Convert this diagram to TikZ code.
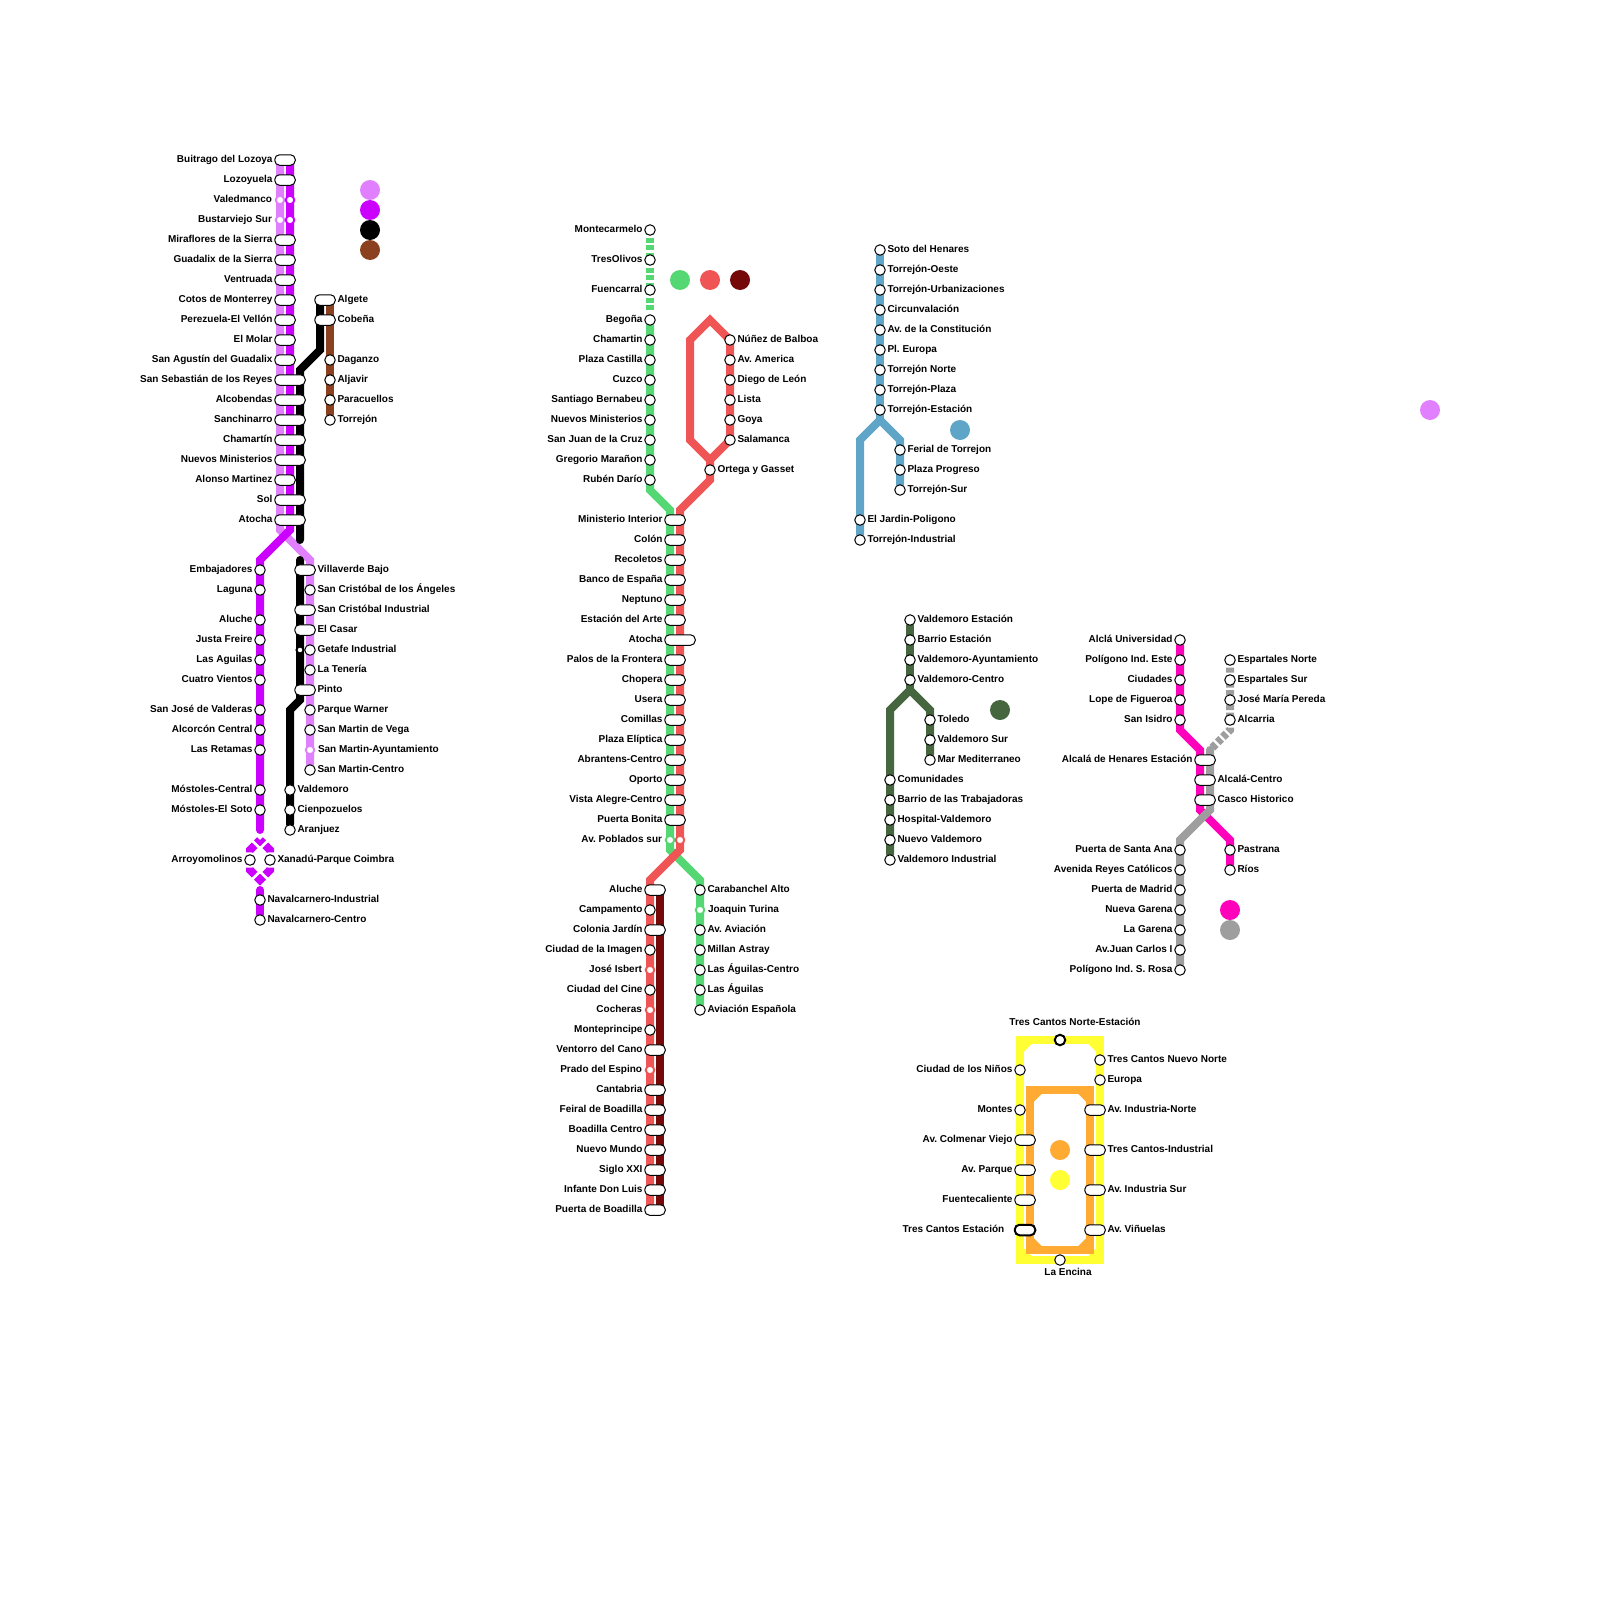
\documentclass[tikz,border=0pt]{standalone}
\usepackage{fontspec}
\setmainfont{Liberation Sans}
\usepackage{xcolor}
\usetikzlibrary{positioning,backgrounds}
\definecolor{lilac}{HTML}{E080FF}
\definecolor{violet2}{HTML}{CC00FF}
\definecolor{brown2}{HTML}{8B4020}
\definecolor{green2}{HTML}{55D873}
\definecolor{red2}{HTML}{F05555}
\definecolor{maroon2}{HTML}{750808}
\definecolor{blue2}{HTML}{5EA5C8}
\definecolor{forest2}{HTML}{466640}
\definecolor{hot2}{HTML}{FF00BB}
\definecolor{grey2}{HTML}{9E9E9E}
\definecolor{yellow2}{HTML}{FFFF33}
\definecolor{orange2}{HTML}{FFAA33}

\begin{document}
\frenchspacing
\begin{tikzpicture}[
      x=1pt,y=-1pt,
      stn/.style={draw,circle,fill=white,line width=1pt,minimum size=10.5pt,inner sep=0pt},
      pill/.style={draw,rounded corners=4.75pt,fill=white,line width=1pt,
                   minimum width=20.5pt,minimum height=10.5pt,inner sep=0pt},
      wpill/.style={pill,minimum width=30.5pt},
      tiny/.style={circle,fill=white,draw=#1,line width=2pt,minimum size=8.5pt,inner sep=0pt},
      txt/.style={font=\fontsize{10}{12}\selectfont\bfseries,inner sep=0pt,outer sep=0pt,
                  text height=7.6pt,text depth=2pt},
      route/.style={draw=#1,line width=8pt,line cap=round},
      dashroute/.style={draw=#1,line width=8pt,dash pattern=on 5pt off 2.5pt},
      swatch/.style={circle,fill=#1,minimum size=20pt,inner sep=0pt},
  ]
    \useasboundingbox (0,0) rectangle (1600,1600);

    % sierra trunk
    \node[pill] (a1) at (285,160) {}; \node[txt,left=1.75pt of a1] (ta1) {Buitrago del Lozoya};
    \node[pill] (a2) at (285,180) {}; \node[txt,left=1.75pt of a2] (ta2) {Lozoyuela};
    \node[tiny=lilac] (a3) at (280,200) {}; \node[txt,left=2.75pt of a3] (ta3) {Valedmanco};
    \node[tiny=violet2] (a3b) at (290,200) {};
    \node[tiny=lilac] (a4) at (280,220) {}; \node[txt,left=2.75pt of a4] (ta4) {Bustarviejo Sur};
    \node[tiny=violet2] (a4b) at (290,220) {};
    \node[pill] (a5) at (285,240) {}; \node[txt,left=1.75pt of a5] (ta5) {Miraflores de la Sierra};
    \node[pill] (a6) at (285,260) {}; \node[txt,left=1.75pt of a6] (ta6) {Guadalix de la Sierra};
    \node[pill] (a7) at (285,280) {}; \node[txt,left=1.75pt of a7] (ta7) {Ventruada};
    \node[pill] (a8) at (285,300) {}; \node[txt,left=1.75pt of a8] (ta8) {Cotos de Monterrey};
    \node[pill] (a9) at (285,320) {}; \node[txt,left=1.75pt of a9] (ta9) {Perezuela-El Vellón};
    \node[pill] (a10) at (285,340) {}; \node[txt,left=1.75pt of a10] (ta10) {El Molar};
    \node[pill] (a11) at (285,360) {}; \node[txt,left=1.75pt of a11] (ta11) {San Agustín del Guadalix};
    \node[wpill] (a12) at (290,380) {}; \node[txt,left=1.75pt of a12] (ta12) {San Sebastián de los Reyes};
    \node[wpill] (a13) at (290,400) {}; \node[txt,left=1.75pt of a13] (ta13) {Alcobendas};
    \node[wpill] (a14) at (290,420) {}; \node[txt,left=1.75pt of a14] (ta14) {Sanchinarro};
    \node[wpill] (a15) at (290,440) {}; \node[txt,left=1.75pt of a15] (ta15) {Chamartín};
    \node[wpill] (a16) at (290,460) {}; \node[txt,left=1.75pt of a16] (ta16) {Nuevos Ministerios};
    \node[pill] (a17) at (285,480) {}; \node[txt,left=1.75pt of a17] (ta17) {Alonso Martinez};
    \node[wpill] (a18) at (290,500) {}; \node[txt,left=1.75pt of a18] (ta18) {Sol};
    \node[wpill] (a19) at (290,520) {}; \node[txt,left=1.75pt of a19] (ta19) {Atocha};

    % black and brown north
    \node[pill] (n1) at (325,300) {}; \node[txt,right=1.75pt of n1] (tn1) {Algete};
    \node[pill] (n2) at (325,320) {}; \node[txt,right=1.75pt of n2] (tn2) {Cobeña};
    \node[stn] (n3) at (330,360) {}; \node[txt,right=1.75pt of n3] (tn3) {Daganzo};
    \node[stn] (n4) at (330,380) {}; \node[txt,right=1.75pt of n4] (tn4) {Aljavir};
    \node[stn] (n5) at (330,400) {}; \node[txt,right=1.75pt of n5] (tn5) {Paracuellos};
    \node[stn] (n6) at (330,420) {}; \node[txt,right=1.75pt of n6] (tn6) {Torrejón};

    % violet south
    \node[stn] (b1) at (260,570) {}; \node[txt,left=1.75pt of b1] (tb1) {Embajadores};
    \node[stn] (b2) at (260,590) {}; \node[txt,left=1.75pt of b2] (tb2) {Laguna};
    \node[stn] (b3) at (260,620) {}; \node[txt,left=1.75pt of b3] (tb3) {Aluche};
    \node[stn] (b4) at (260,640) {}; \node[txt,left=1.75pt of b4] (tb4) {Justa Freire};
    \node[stn] (b5) at (260,660) {}; \node[txt,left=1.75pt of b5] (tb5) {Las Aguilas};
    \node[stn] (b6) at (260,680) {}; \node[txt,left=1.75pt of b6] (tb6) {Cuatro Vientos};
    \node[stn] (b7) at (260,710) {}; \node[txt,left=1.75pt of b7] (tb7) {San José de Valderas};
    \node[stn] (b8) at (260,730) {}; \node[txt,left=1.75pt of b8] (tb8) {Alcorcón Central};
    \node[stn] (b9) at (260,750) {}; \node[txt,left=1.75pt of b9] (tb9) {Las Retamas};
    \node[stn] (b10) at (260,790) {}; \node[txt,left=1.75pt of b10] (tb10) {Móstoles-Central};
    \node[stn] (b11) at (260,810) {}; \node[txt,left=1.75pt of b11] (tb11) {Móstoles-El Soto};
    \node[stn] (b12) at (250,860) {}; \node[txt,left=1.75pt of b12] (tb12) {Arroyomolinos};
    \node[stn] (b13) at (270,860) {}; \node[txt,right=1.75pt of b13] (tb13) {Xanadú-Parque Coimbra};
    \node[stn] (b14) at (260,900) {}; \node[txt,right=1.75pt of b14] (tb14) {Navalcarnero-Industrial};
    \node[stn] (b15) at (260,920) {}; \node[txt,right=1.75pt of b15] (tb15) {Navalcarnero-Centro};

    % lilac and black south
    \node[pill] (c1) at (305,570) {}; \node[txt,right=1.75pt of c1] (tc1) {Villaverde Bajo};
    \node[stn] (c2) at (310,590) {}; \node[txt,right=1.75pt of c2] (tc2) {San Cristóbal de los Ángeles};
    \node[pill] (c3) at (305,610) {}; \node[txt,right=1.75pt of c3] (tc3) {San Cristóbal Industrial};
    \node[pill] (c4) at (305,630) {}; \node[txt,right=1.75pt of c4] (tc4) {El Casar};
    \node[stn] (c5) at (310,650) {}; \node[txt,right=1.75pt of c5] (tc5) {Getafe Industrial};
    \node[tiny=black,minimum size=7pt] (c5b) at (300,650) {};
    \node[stn] (c6) at (310,670) {}; \node[txt,right=1.75pt of c6] (tc6) {La Tenería};
    \node[pill] (c7) at (305,690) {}; \node[txt,right=1.75pt of c7] (tc7) {Pinto};
    \node[stn] (c8) at (310,710) {}; \node[txt,right=1.75pt of c8] (tc8) {Parque Warner};
    \node[stn] (c9) at (310,730) {}; \node[txt,right=1.75pt of c9] (tc9) {San Martin de Vega};
    \node[tiny=lilac] (c10) at (310,750) {}; \node[txt,right=2.75pt of c10] (tc10) {San Martin-Ayuntamiento};
    \node[stn] (c11) at (310,770) {}; \node[txt,right=1.75pt of c11] (tc11) {San Martin-Centro};
    \node[stn] (c12) at (290,790) {}; \node[txt,right=1.75pt of c12] (tc12) {Valdemoro};
    \node[stn] (c13) at (290,810) {}; \node[txt,right=1.75pt of c13] (tc13) {Cienpozuelos};
    \node[stn] (c14) at (290,830) {}; \node[txt,right=1.75pt of c14] (tc14) {Aranjuez};

    % green north
    \node[stn] (g1) at (650,230) {}; \node[txt,left=1.75pt of g1] (tg1) {Montecarmelo};
    \node[stn] (g2) at (650,260) {}; \node[txt,left=1.75pt of g2] (tg2) {TresOlivos};
    \node[stn] (g3) at (650,290) {}; \node[txt,left=1.75pt of g3] (tg3) {Fuencarral};
    \node[stn] (g4) at (650,320) {}; \node[txt,left=1.75pt of g4] (tg4) {Begoña};
    \node[stn] (g5) at (650,340) {}; \node[txt,left=1.75pt of g5] (tg5) {Chamartin};
    \node[stn] (g6) at (650,360) {}; \node[txt,left=1.75pt of g6] (tg6) {Plaza Castilla};
    \node[stn] (g7) at (650,380) {}; \node[txt,left=1.75pt of g7] (tg7) {Cuzco};
    \node[stn] (g8) at (650,400) {}; \node[txt,left=1.75pt of g8] (tg8) {Santiago Bernabeu};
    \node[stn] (g9) at (650,420) {}; \node[txt,left=1.75pt of g9] (tg9) {Nuevos Ministerios};
    \node[stn] (g10) at (650,440) {}; \node[txt,left=1.75pt of g10] (tg10) {San Juan de la Cruz};
    \node[stn] (g11) at (650,460) {}; \node[txt,left=1.75pt of g11] (tg11) {Gregorio Marañon};
    \node[stn] (g12) at (650,480) {}; \node[txt,left=1.75pt of g12] (tg12) {Rubén Darío};

    % red loop
    \node[stn] (r1) at (730,340) {}; \node[txt,right=1.75pt of r1] (tr1) {Núñez de Balboa};
    \node[stn] (r2) at (730,360) {}; \node[txt,right=1.75pt of r2] (tr2) {Av. America};
    \node[stn] (r3) at (730,380) {}; \node[txt,right=1.75pt of r3] (tr3) {Diego de León};
    \node[stn] (r4) at (730,400) {}; \node[txt,right=1.75pt of r4] (tr4) {Lista};
    \node[stn] (r5) at (730,420) {}; \node[txt,right=1.75pt of r5] (tr5) {Goya};
    \node[stn] (r6) at (730,440) {}; \node[txt,right=1.75pt of r6] (tr6) {Salamanca};
    \node[stn] (r7) at (710,470) {}; \node[txt,right=1.75pt of r7] (tr7) {Ortega y Gasset};

    % green and red trunk
    \node[pill] (m1) at (675,520) {}; \node[txt,left=1.75pt of m1] (tm1) {Ministerio Interior};
    \node[pill] (m2) at (675,540) {}; \node[txt,left=1.75pt of m2] (tm2) {Colón};
    \node[pill] (m3) at (675,560) {}; \node[txt,left=1.75pt of m3] (tm3) {Recoletos};
    \node[pill] (m4) at (675,580) {}; \node[txt,left=1.75pt of m4] (tm4) {Banco de España};
    \node[pill] (m5) at (675,600) {}; \node[txt,left=1.75pt of m5] (tm5) {Neptuno};
    \node[pill] (m6) at (675,620) {}; \node[txt,left=1.75pt of m6] (tm6) {Estación del Arte};
    \node[wpill] (m7) at (680,640) {}; \node[txt,left=1.75pt of m7] (tm7) {Atocha};
    \node[pill] (m8) at (675,660) {}; \node[txt,left=1.75pt of m8] (tm8) {Palos de la Frontera};
    \node[pill] (m9) at (675,680) {}; \node[txt,left=1.75pt of m9] (tm9) {Chopera};
    \node[pill] (m10) at (675,700) {}; \node[txt,left=1.75pt of m10] (tm10) {Usera};
    \node[pill] (m11) at (675,720) {}; \node[txt,left=1.75pt of m11] (tm11) {Comillas};
    \node[pill] (m12) at (675,740) {}; \node[txt,left=1.75pt of m12] (tm12) {Plaza Elíptica};
    \node[pill] (m13) at (675,760) {}; \node[txt,left=1.75pt of m13] (tm13) {Abrantens-Centro};
    \node[pill] (m14) at (675,780) {}; \node[txt,left=1.75pt of m14] (tm14) {Oporto};
    \node[pill] (m15) at (675,800) {}; \node[txt,left=1.75pt of m15] (tm15) {Vista Alegre-Centro};
    \node[pill] (m16) at (675,820) {}; \node[txt,left=1.75pt of m16] (tm16) {Puerta Bonita};
    \node[tiny=green2] (m17) at (670,840) {}; \node[txt,left=2.75pt of m17] (tm17) {Av. Poblados sur};
    \node[tiny=red2] (m17b) at (680,840) {};

    % red and maroon south
    \node[pill] (d1) at (655,890) {}; \node[txt,left=1.75pt of d1] (td1) {Aluche};
    \node[stn] (d2) at (650,910) {}; \node[txt,left=1.75pt of d2] (td2) {Campamento};
    \node[pill] (d3) at (655,930) {}; \node[txt,left=1.75pt of d3] (td3) {Colonia Jardín};
    \node[stn] (d4) at (650,950) {}; \node[txt,left=1.75pt of d4] (td4) {Ciudad de la Imagen};
    \node[tiny=red2] (d5) at (650,970) {}; \node[txt,left=2.75pt of d5] (td5) {José Isbert};
    \node[stn] (d6) at (650,990) {}; \node[txt,left=1.75pt of d6] (td6) {Ciudad del Cine};
    \node[tiny=red2] (d7) at (650,1010) {}; \node[txt,left=2.75pt of d7] (td7) {Cocheras};
    \node[stn] (d8) at (650,1030) {}; \node[txt,left=1.75pt of d8] (td8) {Monteprincipe};
    \node[pill] (d9) at (655,1050) {}; \node[txt,left=1.75pt of d9] (td9) {Ventorro del Cano};
    \node[tiny=red2] (d10) at (650,1070) {}; \node[txt,left=2.75pt of d10] (td10) {Prado del Espino};
    \node[pill] (d11) at (655,1090) {}; \node[txt,left=1.75pt of d11] (td11) {Cantabria};
    \node[pill] (d12) at (655,1110) {}; \node[txt,left=1.75pt of d12] (td12) {Feiral de Boadilla};
    \node[pill] (d13) at (655,1130) {}; \node[txt,left=1.75pt of d13] (td13) {Boadilla Centro};
    \node[pill] (d14) at (655,1150) {}; \node[txt,left=1.75pt of d14] (td14) {Nuevo Mundo};
    \node[pill] (d15) at (655,1170) {}; \node[txt,left=1.75pt of d15] (td15) {Siglo XXI};
    \node[pill] (d16) at (655,1190) {}; \node[txt,left=1.75pt of d16] (td16) {Infante Don Luis};
    \node[pill] (d17) at (655,1210) {}; \node[txt,left=1.75pt of d17] (td17) {Puerta de Boadilla};

    % green south
    \node[stn] (e1) at (700,890) {}; \node[txt,right=1.75pt of e1] (te1) {Carabanchel Alto};
    \node[tiny=green2] (e2) at (700,910) {}; \node[txt,right=2.75pt of e2] (te2) {Joaquin Turina};
    \node[stn] (e3) at (700,930) {}; \node[txt,right=1.75pt of e3] (te3) {Av. Aviación};
    \node[stn] (e4) at (700,950) {}; \node[txt,right=1.75pt of e4] (te4) {Millan Astray};
    \node[stn] (e5) at (700,970) {}; \node[txt,right=1.75pt of e5] (te5) {Las Águilas-Centro};
    \node[stn] (e6) at (700,990) {}; \node[txt,right=1.75pt of e6] (te6) {Las Águilas};
    \node[stn] (e7) at (700,1010) {}; \node[txt,right=1.75pt of e7] (te7) {Aviación Española};

    % torrejon
    \node[stn] (t1) at (880,250) {}; \node[txt,right=1.75pt of t1] (tt1) {Soto del Henares};
    \node[stn] (t2) at (880,270) {}; \node[txt,right=1.75pt of t2] (tt2) {Torrejón-Oeste};
    \node[stn] (t3) at (880,290) {}; \node[txt,right=1.75pt of t3] (tt3) {Torrejón-Urbanizaciones};
    \node[stn] (t4) at (880,310) {}; \node[txt,right=1.75pt of t4] (tt4) {Circunvalación};
    \node[stn] (t5) at (880,330) {}; \node[txt,right=1.75pt of t5] (tt5) {Av. de la Constitución};
    \node[stn] (t6) at (880,350) {}; \node[txt,right=1.75pt of t6] (tt6) {Pl. Europa};
    \node[stn] (t7) at (880,370) {}; \node[txt,right=1.75pt of t7] (tt7) {Torrejón Norte};
    \node[stn] (t8) at (880,390) {}; \node[txt,right=1.75pt of t8] (tt8) {Torrejón-Plaza};
    \node[stn] (t9) at (880,410) {}; \node[txt,right=1.75pt of t9] (tt9) {Torrejón-Estación};
    \node[stn] (t10) at (900,450) {}; \node[txt,right=1.75pt of t10] (tt10) {Ferial de Torrejon};
    \node[stn] (t11) at (900,470) {}; \node[txt,right=1.75pt of t11] (tt11) {Plaza Progreso};
    \node[stn] (t12) at (900,490) {}; \node[txt,right=1.75pt of t12] (tt12) {Torrejón-Sur};
    \node[stn] (t13) at (860,520) {}; \node[txt,right=1.75pt of t13] (tt13) {El Jardin-Poligono};
    \node[stn] (t14) at (860,540) {}; \node[txt,right=1.75pt of t14] (tt14) {Torrejón-Industrial};

    % valdemoro
    \node[stn] (v1) at (910,620) {}; \node[txt,right=1.75pt of v1] (tv1) {Valdemoro Estación};
    \node[stn] (v2) at (910,640) {}; \node[txt,right=1.75pt of v2] (tv2) {Barrio Estación};
    \node[stn] (v3) at (910,660) {}; \node[txt,right=1.75pt of v3] (tv3) {Valdemoro-Ayuntamiento};
    \node[stn] (v4) at (910,680) {}; \node[txt,right=1.75pt of v4] (tv4) {Valdemoro-Centro};
    \node[stn] (v5) at (930,720) {}; \node[txt,right=1.75pt of v5] (tv5) {Toledo};
    \node[stn] (v6) at (930,740) {}; \node[txt,right=1.75pt of v6] (tv6) {Valdemoro Sur};
    \node[stn] (v7) at (930,760) {}; \node[txt,right=1.75pt of v7] (tv7) {Mar Mediterraneo};
    \node[stn] (v8) at (890,780) {}; \node[txt,right=1.75pt of v8] (tv8) {Comunidades};
    \node[stn] (v9) at (890,800) {}; \node[txt,right=1.75pt of v9] (tv9) {Barrio de las Trabajadoras};
    \node[stn] (v10) at (890,820) {}; \node[txt,right=1.75pt of v10] (tv10) {Hospital-Valdemoro};
    \node[stn] (v11) at (890,840) {}; \node[txt,right=1.75pt of v11] (tv11) {Nuevo Valdemoro};
    \node[stn] (v12) at (890,860) {}; \node[txt,right=1.75pt of v12] (tv12) {Valdemoro Industrial};

    % alcala
    \node[stn] (h1) at (1180,640) {}; \node[txt,left=1.75pt of h1] (th1) {Alclá Universidad};
    \node[stn] (h2) at (1180,660) {}; \node[txt,left=1.75pt of h2] (th2) {Polígono Ind. Este};
    \node[stn] (h3) at (1180,680) {}; \node[txt,left=1.75pt of h3] (th3) {Ciudades};
    \node[stn] (h4) at (1180,700) {}; \node[txt,left=1.75pt of h4] (th4) {Lope de Figueroa};
    \node[stn] (h5) at (1180,720) {}; \node[txt,left=1.75pt of h5] (th5) {San Isidro};
    \node[stn] (k1) at (1230,660) {}; \node[txt,right=1.75pt of k1] (tk1) {Espartales Norte};
    \node[stn] (k2) at (1230,680) {}; \node[txt,right=1.75pt of k2] (tk2) {Espartales Sur};
    \node[stn] (k3) at (1230,700) {}; \node[txt,right=1.75pt of k3] (tk3) {José María Pereda};
    \node[stn] (k4) at (1230,720) {}; \node[txt,right=1.75pt of k4] (tk4) {Alcarria};
    \node[pill] (x1) at (1205,760) {}; \node[txt,left=1.75pt of x1] (tx1) {Alcalá de Henares Estación};
    \node[pill] (x2) at (1205,780) {}; \node[txt,right=1.75pt of x2] (tx2) {Alcalá-Centro};
    \node[pill] (x3) at (1205,800) {}; \node[txt,right=1.75pt of x3] (tx3) {Casco Historico};
    \node[stn] (h6) at (1230,850) {}; \node[txt,right=1.75pt of h6] (th6) {Pastrana};
    \node[stn] (h7) at (1230,870) {}; \node[txt,right=1.75pt of h7] (th7) {Ríos};
    \node[stn] (k5) at (1180,850) {}; \node[txt,left=1.75pt of k5] (tk5) {Puerta de Santa Ana};
    \node[stn] (k6) at (1180,870) {}; \node[txt,left=1.75pt of k6] (tk6) {Avenida Reyes Católicos};
    \node[stn] (k7) at (1180,890) {}; \node[txt,left=1.75pt of k7] (tk7) {Puerta de Madrid};
    \node[stn] (k8) at (1180,910) {}; \node[txt,left=1.75pt of k8] (tk8) {Nueva Garena};
    \node[stn] (k9) at (1180,930) {}; \node[txt,left=1.75pt of k9] (tk9) {La Garena};
    \node[stn] (k10) at (1180,950) {}; \node[txt,left=1.75pt of k10] (tk10) {Av.Juan Carlos I};
    \node[stn] (k11) at (1180,970) {}; \node[txt,left=1.75pt of k11] (tk11) {Polígono Ind. S. Rosa};

    % tres cantos
    \node[stn,line width=2pt] (y1) at (1060,1040) {}; \node[txt] (ty1) at (1075,1023) {Tres Cantos Norte-Estación};
    \node[stn] (y2) at (1100,1060) {}; \node[txt,right=1.75pt of y2] (ty2) {Tres Cantos Nuevo Norte};
    \node[stn] (y3) at (1100,1080) {}; \node[txt,right=1.75pt of y3] (ty3) {Europa};
    \node[stn] (y4) at (1020,1070) {}; \node[txt,left=1.75pt of y4] (ty4) {Ciudad de los Niños};
    \node[stn] (y5) at (1020,1110) {}; \node[txt,left=1.75pt of y5] (ty5) {Montes};
    \node[pill] (y6) at (1025,1140) {}; \node[txt,left=1.75pt of y6] (ty6) {Av. Colmenar Viejo};
    \node[pill] (y7) at (1025,1170) {}; \node[txt,left=1.75pt of y7] (ty7) {Av. Parque};
    \node[pill] (y8) at (1025,1200) {}; \node[txt,left=1.75pt of y8] (ty8) {Fuentecaliente};
    \node[pill,line width=2pt] (y9) at (1025,1230) {}; \node[txt,left=9.5pt of y9] (ty9) {Tres Cantos Estación};
    \node[pill] (y10) at (1095,1110) {}; \node[txt,right=1.75pt of y10] (ty10) {Av. Industria-Norte};
    \node[pill] (y11) at (1095,1150) {}; \node[txt,right=1.75pt of y11] (ty11) {Tres Cantos-Industrial};
    \node[pill] (y12) at (1095,1190) {}; \node[txt,right=1.75pt of y12] (ty12) {Av. Industria Sur};
    \node[pill] (y13) at (1095,1230) {}; \node[txt,right=1.75pt of y13] (ty13) {Av. Viñuelas};
    \node[stn] (y14) at (1060,1260) {}; \node[txt] (ty14) at (1068,1273) {La Encina};

    % legend dots
    \node[swatch=lilac] (l1) at (370,190) {};
    \node[swatch=violet2] (l2) at (370,210) {};
    \node[swatch=black] (l3) at (370,230) {};
    \node[swatch=brown2] (l4) at (370,250) {};
    \node[swatch=green2] (l5) at (680,280) {};
    \node[swatch=red2] (l6) at (710,280) {};
    \node[swatch=maroon2] (l7) at (740,280) {};
    \node[swatch=blue2] (l8) at (960,430) {};
    \node[swatch=forest2] (l9) at (1000,710) {};
    \node[swatch=hot2] (l10) at (1230,910) {};
    \node[swatch=grey2] (l11) at (1230,930) {};
    \node[swatch=orange2] (l12) at (1060,1150) {};
    \node[swatch=yellow2] (l13) at (1060,1180) {};
    \node[swatch=lilac] (l14) at (1430,410) {};

    % bends and free ends
    \coordinate (pk0) at (280,160); \coordinate (pk1) at (280,530); \coordinate (pk2) at (310,560);
    \coordinate (vi0) at (290,160); \coordinate (vi1) at (290,530); \coordinate (vi2) at (260,560);
    \coordinate (vi3) at (260,830); \coordinate (vi4) at (260,890);
    \coordinate (oc0) at (260,840); \coordinate (oc1) at (250,850); \coordinate (oc2) at (250,870);
    \coordinate (oc3) at (260,880); \coordinate (oc4) at (270,870); \coordinate (oc5) at (270,850);
    \coordinate (bk0) at (320,300); \coordinate (bk1) at (320,350); \coordinate (bk2) at (300,370);
    \coordinate (bk3) at (300,540); \coordinate (bk4) at (300,560); \coordinate (bk5) at (300,700);
    \coordinate (bk6) at (290,710); \coordinate (br0) at (330,300);
    \coordinate (gr0) at (650,311); \coordinate (gr1) at (650,490); \coordinate (gr2) at (670,510);
    \coordinate (gr3) at (670,850); \coordinate (gr4) at (700,880);
    \coordinate (rd0) at (710,320); \coordinate (rd1) at (690,340); \coordinate (rd2) at (690,440);
    \coordinate (rd3) at (710,460); \coordinate (rd4) at (710,480); \coordinate (rd5) at (680,510);
    \coordinate (rd6) at (680,850); \coordinate (rd7) at (650,880); \coordinate (rd8) at (650,1210);
    \coordinate (mr0) at (660,890); \coordinate (mr1) at (660,1210);
    \coordinate (bl0) at (880,420); \coordinate (bl1) at (860,440); \coordinate (bl2) at (900,440);
    \coordinate (fo0) at (910,690); \coordinate (fo1) at (890,710); \coordinate (fo2) at (930,710);
    \coordinate (ho0) at (1180,730); \coordinate (ho1) at (1200,750); \coordinate (ho2) at (1200,810);
    \coordinate (ho3) at (1230,840);
    \coordinate (gy0) at (1230,730); \coordinate (gy1) at (1210,750); \coordinate (gy2) at (1210,810);
    \coordinate (gy3) at (1180,840);

    \begin{scope}[on background layer]
      \draw[route=lilac] (pk0) -- (pk1) -- (pk2) -- (c11);
      \draw[route=violet2] (vi0) -- (vi1) -- (vi2) -- (vi3);
      \draw[dashroute=violet2,dash pattern=on 9pt off 3.07pt,dash phase=4.5pt]
        (oc0) -- (oc1) -- (oc2) -- (oc3) -- (oc4) -- (oc5) -- cycle;
      \draw[route=violet2] (vi4) -- (b15);
      \draw[route=black] (bk0) -- (bk1) -- (bk2) -- (bk3);
      \draw[route=black] (bk4) -- (bk5) -- (bk6) -- (c14);
      \draw[route=brown2] (br0) -- (n6);

      \draw[dashroute=green2] (g1.center) -- (gr0);
      \draw[route=green2] (g4) -- (gr1) -- (gr2) -- (gr3) -- (gr4) -- (e7);
      \draw[route=red2] (rd0) -- (rd1) -- (rd2) -- (rd3) -- (r6.center) -- (r1.center) -- cycle;
      \draw[route=red2] (rd3) -- (rd4) -- (rd5) -- (rd6) -- (rd7) -- (rd8);
      \draw[route=maroon2] (mr0) -- (mr1);

      \draw[route=blue2] (t1) -- (bl0);
      \draw[route=blue2] (t14) -- (bl1) -- (bl0) -- (bl2) -- (t12);
      \draw[route=forest2] (v1) -- (fo0);
      \draw[route=forest2] (v12) -- (fo1) -- (fo0) -- (fo2) -- (v7);

      \draw[route=hot2] (h1) -- (ho0) -- (ho1) -- (ho2) -- (ho3) -- (h7);
      \draw[dashroute=grey2] (k1.center) -- (gy0) -- (gy1);
      \draw[route=grey2] (gy1) -- (gy2) -- (gy3) -- (k11);

      \draw[route=yellow2] (1020,1040) -- (1100,1040) -- (1100,1260) -- (1020,1260) -- cycle;
      \draw[route=yellow2] (1030,1040) -- (1020,1050);
      \draw[route=yellow2] (1090,1040) -- (1100,1050);
      \draw[route=yellow2] (1020,1250) -- (1030,1260);
      \draw[route=yellow2] (1100,1250) -- (1090,1260);
      \draw[route=orange2] (1030,1090) -- (1090,1090) -- (1090,1250) -- (1030,1250) -- cycle;
      \draw[route=orange2] (1040,1090) -- (1030,1100);
      \draw[route=orange2] (1080,1090) -- (1090,1100);
      \draw[route=orange2] (1030,1240) -- (1040,1250);
      \draw[route=orange2] (1090,1240) -- (1080,1250);
    \end{scope}
\end{tikzpicture}
\end{document}
